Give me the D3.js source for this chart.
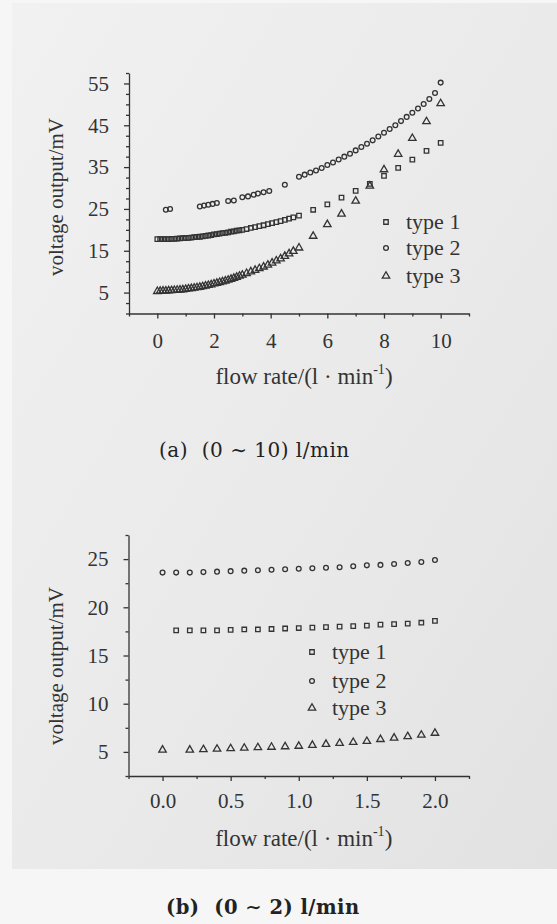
<!DOCTYPE html>
<html>
<head>
<meta charset="utf-8">
<script src="https://cdn.jsdelivr.net/npm/d3@7"></script>
<style>
  body { margin: 0; background: #f6f6f6; }
  svg { display: block; }
  text { font-family: "Liberation Serif", "Times New Roman", serif; fill: #333; }
  .axis path, .axis line { stroke: #333; stroke-width: 1.3; }
</style>
</head>
<body>
<div id="chart"></div>
<script>
// ---- panel (a): 0 ~ 10 l/min ----
var flowA1 = [0,0.1,0.2,0.3,0.4,0.5,0.6,0.7,0.8,0.9,1.0,1.1,1.2,1.3,1.4,1.5,1.6,1.7,1.8,1.9,2.0,2.1,2.2,2.3,2.4,2.5,2.6,2.7,2.8,2.9,3.0,3.15,3.3,3.45,3.6,3.75,3.9,4.05,4.2,4.35,4.5,4.65,4.8,5.0,5.5,6.0,6.5,7.0,7.5,8.0,8.5,9.0,9.5,10.0];
var voltA1 = [17.8,17.8,17.8,17.8,17.8,17.85,17.85,17.9,17.95,18.0,18.05,18.1,18.15,18.25,18.3,18.35,18.45,18.55,18.65,18.75,18.9,19.0,19.1,19.2,19.3,19.4,19.55,19.65,19.8,19.9,20.0,20.2,20.45,20.65,20.9,21.1,21.35,21.6,21.85,22.1,22.4,22.7,23.0,23.4,24.8,26.1,27.7,29.3,31.0,32.9,34.8,36.8,38.9,40.8];

var flowA2 = [0.3,0.45,1.5,1.65,1.8,1.95,2.1,2.5,2.7,3.0,3.2,3.4,3.55,3.75,3.95,4.5,5.0,5.2,5.4,5.6,5.8,6.0,6.2,6.4,6.6,6.8,7.0,7.2,7.4,7.6,7.8,8.0,8.2,8.4,8.6,8.8,9.0,9.2,9.4,9.6,9.8,10.0];
var voltA2 = [24.8,25.0,25.6,25.8,26.0,26.2,26.4,26.9,27.0,27.8,28.0,28.4,28.7,29.0,29.3,30.8,32.7,33.2,33.7,34.2,34.8,35.5,36.1,36.8,37.5,38.2,39.0,39.8,40.6,41.4,42.3,43.2,44.1,45.0,46.0,47.0,48.0,49.0,50.1,51.3,52.7,55.2];

var flowA3 = [0,0.1,0.2,0.3,0.4,0.5,0.6,0.7,0.8,0.9,1.0,1.1,1.2,1.3,1.4,1.5,1.6,1.7,1.8,1.9,2.0,2.1,2.2,2.3,2.4,2.5,2.6,2.7,2.8,2.9,3.0,3.15,3.3,3.45,3.6,3.75,3.9,4.05,4.2,4.35,4.5,4.65,4.8,5.0,5.5,6.0,6.5,7.0,7.5,8.0,8.5,9.0,9.5,10.0];
var voltA3 = [5.3,5.35,5.4,5.4,5.45,5.5,5.55,5.6,5.65,5.7,5.8,5.9,6.0,6.1,6.2,6.3,6.45,6.6,6.75,6.9,7.1,7.25,7.45,7.6,7.8,8.0,8.2,8.45,8.7,8.95,9.2,9.6,10.0,10.35,10.75,11.15,11.6,12.1,12.6,13.1,13.7,14.3,14.9,15.7,18.5,21.3,23.8,26.9,30.5,34.4,38.1,41.9,45.9,50.2];

var xTicksA = [0,2,4,6,8,10];
var xMinorA = [-1,1,3,5,7,9,11];
var yTicksA = [5,15,25,35,45,55];
var yMinorA = [0,2.5,7.5,10,12.5,17.5,20,22.5,27.5,30,32.5,37.5,40,42.5,47.5,50,52.5,57.5];

// ---- panel (b): 0 ~ 2 l/min ----
var flowB1 = [0.1,0.2,0.3,0.4,0.5,0.6,0.7,0.8,0.9,1.0,1.1,1.2,1.3,1.4,1.5,1.6,1.7,1.8,1.9,2.0];
var voltB1 = [17.6,17.6,17.6,17.6,17.65,17.7,17.7,17.75,17.8,17.85,17.9,17.95,18.0,18.05,18.1,18.2,18.25,18.3,18.4,18.6];

var flowB2 = [0.0,0.1,0.2,0.3,0.4,0.5,0.6,0.7,0.8,0.9,1.0,1.1,1.2,1.3,1.4,1.5,1.6,1.7,1.8,1.9,2.0];
var voltB2 = [23.6,23.6,23.6,23.65,23.7,23.75,23.8,23.85,23.9,23.95,24.0,24.05,24.1,24.15,24.25,24.35,24.4,24.5,24.6,24.7,24.9];

var flowB3 = [0.0,0.2,0.3,0.4,0.5,0.6,0.7,0.8,0.9,1.0,1.1,1.2,1.3,1.4,1.5,1.6,1.7,1.8,1.9,2.0];
var voltB3 = [5.2,5.2,5.25,5.3,5.35,5.4,5.45,5.5,5.55,5.6,5.7,5.8,5.9,6.0,6.1,6.3,6.45,6.6,6.75,6.95];

var xTicksB = [0,0.5,1,1.5,2];
var xMinorB = [-0.25,0.25,0.75,1.25,1.75,2.25];
var yTicksB = [5,10,15,20,25];
var yMinorB = [2.5,7.5,12.5,17.5,22.5,27.5];

var seriesNames = ["type 1", "type 2", "type 3"];
var shapes = [d3.symbolSquare, d3.symbolCircle, d3.symbolTriangle];
var markColor = "#333";

var W = 557, H = 924;
var svg = d3.select("#chart").append("svg")
    .attr("width", W)
    .attr("height", H);

// paper background, scanned look
var defs = svg.append("defs");
var grad = defs.append("linearGradient")
    .attr("id", "paper")
    .attr("x1", 0).attr("y1", 0).attr("x2", 1).attr("y2", 1);
grad.append("stop").attr("offset", "0%").attr("stop-color", "#f1f1f1");
grad.append("stop").attr("offset", "60%").attr("stop-color", "#e9e9e9");
grad.append("stop").attr("offset", "100%").attr("stop-color", "#e2e2e2");

svg.append("rect")
    .attr("x", 12).attr("y", 3)
    .attr("width", W - 12).attr("height", 866)
    .attr("fill", "url(#paper)");

function drawPanel(opt) {
  var x = d3.scaleLinear().domain(opt.xDomain).range(opt.xRange);
  var y = d3.scaleLinear().domain(opt.yDomain).range(opt.yRange);
  var g = svg.append("g");

  // minor ticks
  g.append("g")
    .attr("class", "axis")
    .attr("transform", "translate(0," + opt.yRange[0] + ")")
    .call(d3.axisBottom(x).tickValues(opt.xMinor).tickSize(3).tickFormat(""))
    .select(".domain").remove();
  g.append("g")
    .attr("class", "axis")
    .attr("transform", "translate(" + opt.xRange[0] + ",0)")
    .call(d3.axisLeft(y).tickValues(opt.yMinor).tickSize(3).tickFormat(""))
    .select(".domain").remove();

  // major ticks
  var xa = g.append("g")
    .attr("class", "axis")
    .attr("transform", "translate(0," + opt.yRange[0] + ")")
    .call(d3.axisBottom(x).tickValues(opt.xTicks).tickSize(5).tickSizeOuter(0)
      .tickPadding(opt.xPad).tickFormat(opt.xFormat))
    .attr("font-family", null)
    .attr("font-size", null);
  xa.selectAll("text").attr("font-size", 21).attr("fill", "#333");

  var ya = g.append("g")
    .attr("class", "axis")
    .attr("transform", "translate(" + opt.xRange[0] + ",0)")
    .call(d3.axisLeft(y).tickValues(opt.yTicks).tickSize(5).tickSizeOuter(0)
      .tickPadding(15))
    .attr("font-family", null)
    .attr("font-size", null);
  ya.selectAll("text").attr("font-size", 21).attr("fill", "#333");

  // axis titles
  var xt = g.append("text")
    .attr("x", (opt.xRange[0] + opt.xRange[1]) / 2 + 5)
    .attr("y", opt.yRange[0] + 70)
    .attr("text-anchor", "middle")
    .attr("font-size", 23);
  xt.append("tspan").text("flow rate/(l \u00b7 min");
  xt.append("tspan").attr("font-size", 14).attr("dy", -10).text("-1");
  xt.append("tspan").attr("dy", 10).text(")");

  g.append("text")
    .attr("text-anchor", "middle")
    .attr("font-size", 21)
    .attr("transform", "translate(" + 63 + "," + opt.yTitle + ") rotate(-90)")
    .text("voltage output/mV");

  // points
  opt.series.forEach(function(s, i) {
    var sym = d3.symbol().type(shapes[i]).size(i === 1 ? 18 : (i === 2 ? 24 : 20));
    var pts = s.flow.map(function(f, k) { return { f: f, v: s.volt[k] }; });
    g.append("g").selectAll("path")
      .data(pts)
      .enter().append("path")
      .attr("d", sym)
      .attr("transform", function(d) { return "translate(" + x(d.f) + "," + y(d.v) + ")"; })
      .attr("fill", "none")
      .attr("stroke", markColor)
      .attr("stroke-width", 1.3);
  });

  // legend
  seriesNames.forEach(function(name, i) {
    var ly = opt.legendY[i];
    var sym = d3.symbol().type(shapes[i]).size(i === 1 ? 18 : (i === 2 ? 24 : 20));
    g.append("path")
      .attr("d", sym)
      .attr("transform", "translate(" + opt.legendX + "," + ly + ")")
      .attr("fill", "none")
      .attr("stroke", markColor)
      .attr("stroke-width", 1.3);
    g.append("text")
      .attr("x", opt.legendX + 20)
      .attr("y", ly + 7)
      .attr("font-size", 22)
      .text(name);
  });

  // caption
  g.append("text")
    .attr("x", opt.captionX)
    .attr("y", opt.captionY)
    .style("font-family", "'DejaVu Serif', serif")
    .style("font-size", opt.captionSize + "px")
    .style("font-weight", opt.captionWeight)
    .style("letter-spacing", "0.5px")
    .style("fill", "#222")
    .attr("xml:space", "preserve")
    .text(opt.caption);
}

drawPanel({
  xDomain: [-1, 11], xRange: [129, 469],
  yDomain: [0, 57.5], yRange: [313.5, 73],
  xTicks: xTicksA, xMinor: xMinorA, yTicks: yTicksA, yMinor: yMinorA,
  xFormat: d3.format("d"), xPad: 15,
  yTitle: 197,
  series: [
    { flow: flowA1, volt: voltA1 },
    { flow: flowA2, volt: voltA2 },
    { flow: flowA3, volt: voltA3 }
  ],
  legendX: 386, legendY: [222, 248, 276],
  caption: "(a)  (0 \u223c 10) l/min", captionX: 159, captionY: 457,
  captionSize: 20, captionWeight: "normal"
});

drawPanel({
  xDomain: [-0.25, 2.25], xRange: [128.5, 469],
  yDomain: [2.5, 27.5], yRange: [776, 535],
  xTicks: xTicksB, xMinor: xMinorB, yTicks: yTicksB, yMinor: yMinorB,
  xFormat: d3.format(".1f"), xPad: 12,
  yTitle: 666,
  series: [
    { flow: flowB1, volt: voltB1 },
    { flow: flowB2, volt: voltB2 },
    { flow: flowB3, volt: voltB3 }
  ],
  legendX: 312, legendY: [652, 681, 708],
  caption: "(b)  (0 \u223c 2) l/min", captionX: 166, captionY: 914,
  captionSize: 19.5, captionWeight: "bold"
});
</script>
</body>
</html>
